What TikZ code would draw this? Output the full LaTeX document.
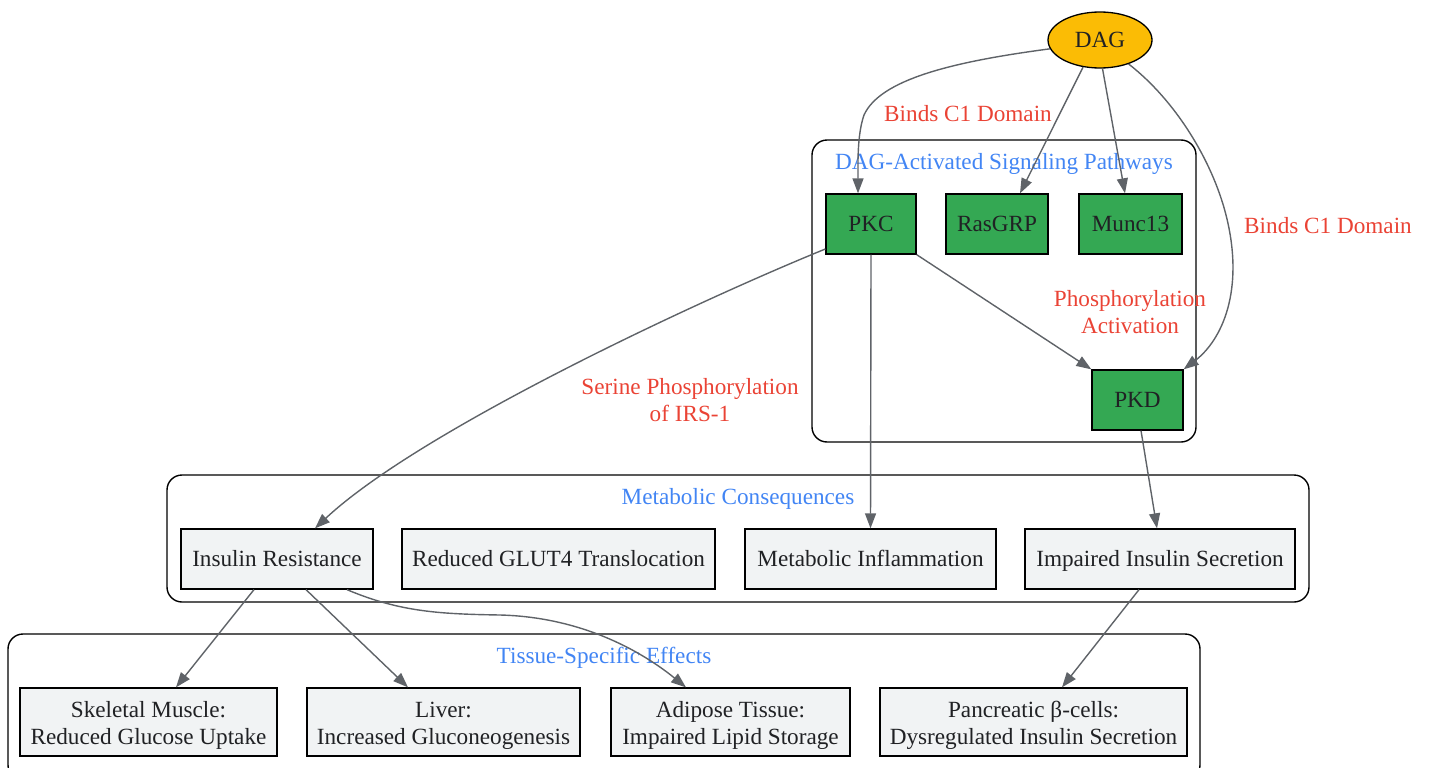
\documentclass[tikz,border=0pt]{standalone}
\usepackage{fontspec}
\setmainfont{Liberation Serif}
\usetikzlibrary{arrows.meta,shapes.geometric}
\definecolor{gGreen}{HTML}{34A853}
\definecolor{gYellow}{HTML}{FBBC05}
\definecolor{gRed}{HTML}{EA4335}
\definecolor{gBlue}{HTML}{4285F4}
\definecolor{gLight}{HTML}{F1F3F4}
\definecolor{gEdge}{HTML}{5F6368}
\definecolor{gText}{HTML}{202124}
\tikzset{
  every node/.style={font=\fontsize{23.2}{27}\selectfont},
  clusterbox/.style={draw=black, line width=1.4pt, rounded corners=15pt},
  clusterlabel/.style={text=gBlue, inner sep=0pt, text height=20pt, text depth=5pt},
  greenbox/.style={draw=black, line width=1.3pt, fill=gGreen, text=gText, minimum height=60pt, inner sep=0pt, text height=20pt, text depth=5pt},
  graybox/.style={draw=black, line width=1.3pt, fill=gLight, text=gText, minimum height=60pt, inner sep=0pt, align=center, text height=20pt, text depth=5pt},
  twoline/.style={minimum height=68pt, text height=47pt, text depth=2pt},
  edgelabel/.style={text=gRed, align=center, inner sep=0pt},
  conn/.style={draw=gEdge, line width=1.4pt, -{Triangle[length=15pt,width=11pt]}}
}
\begin{document}
\begin{tikzpicture}[x=1pt,y=-1pt]
\useasboundingbox (0,0) rectangle (1429,768);
% clusters
\draw[clusterbox] (812,140) rectangle (1196,442);
\draw[clusterbox] (167,475) rectangle (1309,602);
\draw[clusterbox] (8,634) rectangle (1200,780);
\node[clusterlabel] (c1lab) at (1004,162) {DAG-Activated Signaling Pathways};
\node[clusterlabel] (c2lab) at (738,497) {Metabolic Consequences};
\node[clusterlabel] (c3lab) at (604,656) {Tissue-Specific Effects};
% nodes
\node[draw=black, line width=1.3pt, fill=gYellow, text=gText, ellipse, minimum width=104pt, minimum height=56pt, inner sep=0pt, text height=20pt, text depth=5pt] (dag) at (1100,40) {DAG};
\node[greenbox, minimum width=90pt] (pkc) at (871,224) {PKC};
\node[greenbox, minimum width=102pt] (rasgrp) at (997,224) {RasGRP};
\node[greenbox, minimum width=103pt] (munc) at (1130.5,224) {Munc13};
\node[greenbox, minimum width=91pt] (pkd) at (1137.5,400) {PKD};
\node[graybox, minimum width=192pt] (ir) at (277,559) {Insulin Resistance};
\node[graybox, minimum width=313pt] (glut) at (558.5,559) {Reduced GLUT4 Translocation};
\node[graybox, minimum width=251pt] (infl) at (870.5,559) {Metabolic Inflammation};
\node[graybox, minimum width=270pt] (iis) at (1160,559) {Impaired Insulin Secretion};
\node[graybox, twoline, minimum width=257pt] (skel) at (148.5,722) {Skeletal Muscle:\\Reduced Glucose Uptake};
\node[graybox, twoline, minimum width=273pt] (liver) at (443.5,722) {Liver:\\Increased Gluconeogenesis};
\node[graybox, twoline, minimum width=239pt] (adip) at (730.5,722) {Adipose Tissue:\\Impaired Lipid Storage};
\node[graybox, twoline, minimum width=307pt] (panc) at (1033.5,722) {Pancreatic β-cells:\\Dysregulated Insulin Secretion};
% edge labels
\node[edgelabel] (l1) at (968,114) {Binds C1 Domain};
\node[edgelabel] (l2) at (1328,226) {Binds C1 Domain};
\node[edgelabel] (l3) at (1130,312) {Phosphorylation\\Activation};
\node[edgelabel] (l4) at (690,400) {Serine Phosphorylation\\of IRS-1};
% edges
\draw[conn] (dag.190) .. controls (950,62) and (880,80) .. (864,115) .. controls (857,135) and (858,165) .. ([xshift=-13pt]pkc.north);
\draw[conn] (dag.238) -- ([xshift=23pt]rasgrp.north);
\draw[conn] (dag.275) -- ([xshift=-5.5pt]munc.north);
\draw[conn] (dag.-40) .. controls (1175,100) and (1212,160) .. (1226,215) .. controls (1245,290) and (1222,340) .. (pkd.north east);
\draw[conn] (pkc.south east) -- (pkd.north west);
\draw[conn] ([yshift=-25pt]pkc.west) .. controls (700,300) and (420,430) .. ([xshift=38pt]ir.north);
\draw[conn] (pkc.south) -- (infl.north);
\draw[conn] ([xshift=3.5pt]pkd.south) -- ([xshift=-3pt]iis.north);
\draw[conn] ([xshift=-23pt]ir.south) -- ([xshift=27.5pt]skel.north);
\draw[conn] ([xshift=29pt]ir.south) -- ([xshift=-35.5pt]liver.north);
\draw[conn] ([xshift=70pt]ir.south) .. controls (400,612) and (440,614) .. (500,615) .. controls (580,617) and (640,650) .. ([xshift=-44.5pt]adip.north);
\draw[conn] ([xshift=-21pt]iis.south) -- ([xshift=28.5pt]panc.north);
\end{tikzpicture}
\end{document}
